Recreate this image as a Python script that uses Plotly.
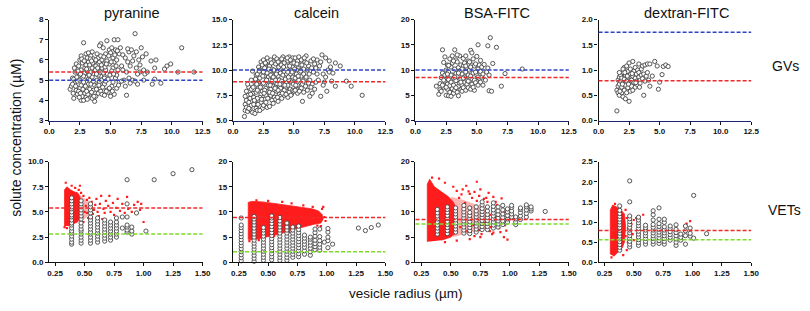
import plotly.graph_objects as go

# ---------------- DATA ----------------
titles = ["pyranine", "calcein", "BSA-FITC", "dextran-FITC"]
row_labels = ["GVs", "VETs"]

# GV reference lines (red = expected, blue = bulk)
gv_red = [5.4, 8.85, 8.5, 0.79]
gv_blue = [5.0, 10.0, 10.0, 1.75]
# VET reference lines (red = expected, green = bulk)
vet_red = [5.4, 8.9, 8.5, 0.79]
vet_green = [2.8, 2.1, 7.6, 0.56]

gv_pyr = [(1.7,4.55),(1.8,4.7),(1.9,5.1),(2.0,4.1),(2.1,4.9),(2.2,5.8),(2.1,5.4),(2.2,4.5),(2.0,5.05),(1.9,4.8),
          (2.3,4.3),(2.4,5.7),(2.5,6.0),(2.6,4.0),(2.5,4.6),(2.4,5.2),(2.6,5.5),(2.7,4.2),(2.3,4.95),(2.6,6.2),
          (2.5,5.0),(2.7,5.85),(2.4,4.45),(2.6,4.75),(2.7,5.3),(2.8,6.85),(2.8,4.0),(2.9,4.35),(3.0,6.3),(2.9,5.6),
          (3.1,4.6),(3.0,5.15),(3.2,5.9),(2.8,4.9),(3.1,6.1),(3.0,4.15),(3.2,4.8),(2.9,5.35),(3.1,5.45),(3.2,6.35),
          (3.0,5.75),(2.8,5.2),(3.1,4.05),(3.2,5.05),(3.3,4.3),(3.4,6.2),(3.5,5.6),(3.3,5.0),(3.6,4.5),(3.7,3.95),
          (3.4,4.8),(3.5,6.4),(3.6,5.3),(3.7,5.9),(3.3,5.75),(3.5,4.1),(3.6,6.05),(3.4,5.4),(3.7,4.75),(3.5,5.15),
          (3.3,4.55),(3.6,4.95),(3.8,4.2),(3.9,6.3),(4.0,5.5),(4.1,4.6),(4.2,6.8),(3.9,5.0),(4.0,4.35),(4.1,5.9),
          (4.2,5.2),(3.8,5.7),(4.0,6.1),(4.1,4.9),(3.9,4.7),(4.2,4.45),(3.8,6.0),(4.0,5.25),(4.2,6.2),(4.1,6.7),
          (4.3,4.3),(4.4,5.8),(4.5,5.1),(4.6,6.3),(4.7,4.5),(4.4,6.6),(4.5,4.8),(4.6,5.5),(4.3,6.0),(4.7,5.95),
          (4.5,4.25),(4.4,5.35),(4.7,6.95),(4.6,4.95),(4.3,5.6),(4.8,4.4),(4.9,6.5),(5.0,5.3),(5.1,4.7),(5.2,6.1),
          (4.9,5.8),(5.0,4.2),(5.1,6.6),(4.8,5.05),(5.2,5.6),(5.0,6.35),(4.9,4.6),(5.2,4.9),(5.1,5.45),(5.3,7.0),
          (5.4,6.5),(5.5,4.6),(5.6,7.0),(5.3,5.9),(5.4,5.1),(5.5,6.0),(5.6,5.5),(5.7,6.3),(5.3,4.3),(5.5,5.25),
          (5.7,4.9),(5.8,6.6),(5.9,5.7),(6.0,6.25),(6.1,5.0),(6.2,6.1),(6.3,4.25),(6.4,5.9),(6.5,6.4),(6.0,5.5),
          (6.3,5.4),(6.2,4.7),(6.5,5.1),(5.9,4.95),(6.4,6.55),(6.6,5.7),(6.7,6.5),(6.8,5.0),(6.9,6.2),(7.0,7.3),
          (7.1,5.6),(7.2,4.8),(6.8,5.95),(7.0,4.95),(7.3,6.0),(7.4,5.4),(7.5,6.6),(6.6,4.85),(7.2,5.3),(7.4,5.75),
          (7.1,6.4),(7.6,6.15),(7.7,5.5),(7.8,5.3),(8.0,5.4),(8.3,5.95),(8.4,4.8),(8.6,5.05),(8.6,5.6),(8.7,6.0),
          (9.1,4.85),(7.9,6.3),(7.7,5.0),(9.4,5.55),(9.6,5.7),(9.9,5.8),(10.5,5.4),(10.8,6.6),(11.8,5.4)]
gv_pyr_core = [(2.35,5.45),(2.45,4.15),(2.55,5.3),(2.65,6.05),(2.75,4.55),(2.85,5.95),(2.95,4.7),(3.05,5.55),
               (3.15,4.3),(3.25,5.25),(3.35,6.05),(3.45,4.4),(3.55,5.85),(3.65,4.2),(3.75,5.5),(3.85,4.55),
               (3.95,5.6),(4.05,4.75),(4.15,5.4),(4.25,5.75),(4.35,4.65),(4.45,6.15),(4.55,5.65),(4.65,4.45),
               (4.75,5.3),(4.85,6.2),(4.95,5.25),(5.05,5.9),(5.15,4.45),(5.25,5.3),(5.35,6.25),(5.45,5.7),
               (5.55,6.45),(5.65,4.75),(2.55,4.35),(3.05,4.45),(3.45,5.95),(3.85,5.3),(4.25,5.0),(4.65,5.8),
               (2.25,5.15),(2.15,4.7),(2.05,5.6),(1.95,4.35)]

gv_cal = [(0.94,5.4),(1.0,6.0),(1.0,6.6),(1.1,7.0),(1.1,6.3),(1.2,5.9),(1.2,7.5),(1.3,6.8),(1.3,8.3),(1.4,7.2),
          (1.4,6.1),(1.0,7.4),(1.2,8.6),(1.1,7.9),(1.5,6.5),(1.6,5.8),(1.6,7.7),(1.7,8.9),(1.8,5.7),(1.8,6.9),
          (1.9,9.5),(1.5,8.1),(1.7,7.3),(1.9,6.2),(1.6,9.9),(1.8,8.4),(1.9,7.8),(1.5,9.0),(1.7,6.6),(2.0,6.0),
          (2.0,8.0),(2.1,10.3),(2.1,7.0),(2.2,6.4),(2.2,9.2),(2.3,10.8),(2.3,7.6),(2.4,8.6),(2.4,6.2),(2.0,9.6),
          (2.1,8.8),(2.2,7.3),(2.3,9.9),(2.4,10.5),(2.0,7.2),(2.2,10.0),(2.3,6.8),(2.4,7.9),(2.5,11.0),(2.5,6.5),
          (2.6,9.4),(2.6,7.1),(2.7,10.6),(2.7,8.2),(2.8,6.3),(2.8,9.0),(2.9,10.9),(2.9,7.6),(2.5,8.7),(2.6,10.2),
          (2.7,6.8),(2.8,11.2),(2.9,8.5),(2.5,9.8),(2.7,7.5),(2.8,9.7),(2.6,8.0),(2.9,9.3),(3.0,6.4),(3.0,10.4),
          (3.1,8.1),(3.1,11.0),(3.2,7.0),(3.2,9.6),(3.3,10.8),(3.3,6.7),(3.4,8.8),(3.4,11.3),(3.0,9.0),(3.1,7.5),
          (3.2,10.1),(3.3,8.4),(3.4,7.3),(3.0,7.8),(3.2,8.9),(3.4,9.9),(3.1,9.5),(3.3,9.3),(3.5,7.1),(3.5,10.6),
          (3.6,8.6),(3.6,11.1),(3.7,6.9),(3.7,9.4),(3.8,10.3),(3.8,7.6),(3.9,11.0),(3.9,8.2),(3.5,9.0),(3.6,7.9),
          (3.7,10.8),(3.8,9.0),(3.9,9.7),(3.5,8.3),(3.7,8.0),(3.6,9.9),(3.9,7.4),(4.0,7.2),(4.0,10.1),(4.1,11.3),
          (4.1,8.6),(4.2,7.5),(4.2,9.8),(4.3,11.0),(4.3,8.2),(4.4,10.4),(4.4,7.9),(4.0,8.9),(4.1,9.5),(4.2,10.7),
          (4.3,9.1),(4.4,8.7),(4.0,11.1),(4.2,8.0),(4.4,9.6),(4.5,7.3),(4.5,10.9),(4.6,9.0),(4.6,11.3),(4.7,8.1),
          (4.7,10.0),(4.8,7.6),(4.8,10.6),(4.9,9.3),(4.9,11.2),(4.5,8.5),(4.6,7.8),(4.7,9.6),(4.8,8.8),(4.9,8.0),
          (4.5,9.8),(4.7,11.0),(4.9,10.3),(5.0,7.9),(5.0,10.7),(5.1,9.2),(5.1,11.2),(5.2,8.4),(5.2,10.0),(5.3,7.7),
          (5.3,10.9),(5.4,9.0),(5.4,11.3),(5.0,8.8),(5.2,9.6),(5.3,8.5),(5.4,10.3),(5.1,8.0),(5.5,8.0),(5.5,10.5),
          (5.6,9.4),(5.6,11.0),(5.7,6.9),(5.7,8.6),(5.8,10.1),(5.8,7.8),(5.9,9.1),(5.9,10.8),(5.6,8.2),(5.8,9.6),
          (6.0,11.4),(6.0,9.3),(6.1,8.0),(6.2,10.4),(6.3,7.4),(6.3,9.0),(6.4,10.9),(6.5,8.6),(6.6,9.8),(6.7,10.6),
          (6.8,8.8),(6.9,9.6),(6.1,10.0),(6.5,7.7),(6.8,10.2),(6.4,8.3),(6.7,8.1),(6.9,11.0),(6.2,8.7),(6.6,11.1),
          (7.0,9.0),(7.1,10.4),(7.2,7.4),(7.3,11.5),(7.4,9.6),(7.5,8.8),(7.6,11.2),(7.7,7.9),(7.8,10.0),(7.9,9.8),
          (8.0,10.3),(7.2,10.8),(7.6,9.3),(7.4,8.5),(8.2,9.7),(8.4,8.4),(8.4,10.7),(8.8,10.4),(9.3,8.9),(9.7,8.4),
          (10.6,7.5),(7.9,10.9),(8.1,8.9)]
gv_cal_core = [(1.45,7.6),(1.65,8.3),(1.75,7.0),(1.85,9.1),(1.95,8.6),(2.05,6.6),(2.15,9.9),(2.25,8.3),(2.35,7.1),
               (2.45,9.4),(2.55,7.7),(2.65,10.7),(2.75,9.0),(2.85,7.2),(2.95,10.1),(3.05,8.5),(3.15,10.7),
               (3.25,7.7),(3.35,10.0),(3.45,8.2),(3.55,9.6),(3.65,7.3),(3.75,10.3),(3.85,8.6),(3.95,10.5),
               (4.05,7.7),(4.15,10.3),(4.25,8.5),(4.35,7.6),(4.45,11.2),(4.55,9.3),(4.65,10.4),(4.75,7.5),
               (4.85,9.8),(4.95,8.6),(5.05,10.1),(5.15,8.5),(5.25,10.6),(5.35,9.4),(5.45,7.9),(5.55,9.9),
               (5.65,10.5),(5.75,8.9),(5.85,11.2),(5.95,8.4),(6.05,10.7),(6.25,9.6),(6.45,10.2),(2.2,6.0),(1.3,6.2)]

gv_bsa = [(1.7,6.8),(1.9,5.2),(2.0,6.1),(2.0,7.3),(2.1,8.5),(2.1,5.8),(2.2,14.0),(2.2,9.4),(2.3,11.5),(2.3,6.6),
          (2.4,7.8),(2.4,12.6),(2.5,5.0),(2.5,10.0),(2.5,8.9),(2.6,6.2),(2.6,7.2),(2.6,11.0),(2.7,4.9),(2.7,9.6),
          (2.7,8.1),(2.8,5.6),(2.8,6.9),(2.8,12.2),(2.9,10.6),(2.9,7.6),(2.9,4.8),(3.0,9.0),(3.0,6.3),(3.0,11.4),
          (3.0,12.8),(3.1,5.4),(3.1,8.4),(3.1,7.0),(3.2,14.0),(3.2,10.2),(3.2,6.0),(3.3,9.3),(3.3,12.0),(3.3,7.9),
          (3.4,5.6),(3.4,11.6),(3.4,8.7),(3.5,4.9),(3.5,6.8),(3.5,10.5),(3.6,12.8),(3.6,7.4),(3.6,9.8),(3.7,6.1),
          (3.7,8.2),(3.7,11.0),(3.8,5.8),(3.8,9.2),(3.8,7.0),(3.9,10.8),(3.9,12.3),(3.9,6.5),(4.0,8.6),(4.0,7.6),
          (4.0,11.4),(4.1,6.0),(4.1,9.6),(4.1,12.8),(4.2,7.2),(4.2,10.4),(4.2,8.0),(4.3,6.5),(4.3,9.0),(4.3,11.8),
          (4.4,7.7),(4.4,10.0),(4.5,13.9),(4.5,6.2),(4.5,8.8),(4.6,13.4),(4.6,11.0),(4.6,7.2),(4.7,9.4),(4.7,12.2),
          (4.8,6.0),(4.8,8.0),(4.8,10.8),(4.9,7.5),(4.9,11.2),(5.0,9.0),(5.0,12.7),(5.1,15.0),(5.1,7.0),(5.1,10.2),
          (5.2,8.3),(5.2,11.0),(5.3,7.6),(5.3,9.7),(5.4,8.6),(5.4,10.6),(5.5,7.0),(5.5,9.2),(5.6,11.1),(5.7,8.0),
          (5.8,9.6),(5.9,14.8),(5.9,10.4),(6.0,5.9),(6.0,9.0),(6.1,16.4),(6.2,5.8),(6.3,11.3),(6.6,14.5),(7.0,6.8),
          (7.3,9.3),(8.7,10.2),(2.4,9.0),(2.2,7.0),(3.4,13.0)]
gv_bsa_core = [(2.3,8.0),(2.5,6.6),(2.7,10.9),(2.9,9.0),(3.1,11.8),(3.3,6.5),(3.5,9.4),(3.7,7.6),(3.9,8.4),
               (4.1,10.8),(4.3,7.8),(4.5,10.6),(4.7,6.6),(4.9,9.6),(5.1,8.6),(5.3,11.9),(2.6,9.2),(3.2,8.6),
               (3.8,10.2),(4.4,11.6)]

gv_dex = [(1.5,0.19),(1.5,0.6),(1.6,0.55),(1.6,0.8),(1.6,0.68),(1.7,0.5),(1.7,0.86),(1.7,0.72),(1.8,0.62),(1.8,0.9),
          (1.8,0.78),(1.9,0.66),(1.9,0.55),(1.9,0.84),(2.0,0.74),(2.0,0.95),(2.0,0.47),(2.1,0.6),(2.1,1.05),(2.1,0.82),
          (2.2,0.43),(2.2,0.7),(2.2,0.9),(2.3,1.08),(2.3,0.55),(2.3,0.78),(2.4,0.65),(2.4,0.97),(2.4,0.86),(2.5,1.14),
          (2.5,0.38),(2.5,0.74),(2.6,0.58),(2.6,0.92),(2.6,1.02),(2.7,0.8),(2.7,0.68),(2.8,1.17),(2.8,0.88),(2.8,0.6),
          (2.9,0.98),(2.9,0.75),(3.0,0.84),(3.0,1.05),(3.0,0.66),(3.1,0.92),(3.1,0.78),(3.2,1.0),(3.2,0.7),(3.3,0.86),
          (3.3,0.95),(3.4,0.8),(3.4,0.74),(3.5,0.9),(3.5,1.02),(3.6,0.83),(3.6,1.08),(3.7,0.5),(3.7,0.92),(3.8,0.78),
          (3.8,1.1),(3.9,0.88),(4.0,0.95),(4.0,1.12),(4.1,0.8),(4.2,1.12),(4.2,0.68),(4.4,0.88),(4.6,1.17),(4.8,1.08),
          (4.9,0.62),(5.0,0.76),(5.2,0.91),(5.3,1.07),(5.5,1.1),(5.7,1.07),(2.0,1.02),(1.7,0.95),(3.3,1.12)]
gv_dex_core = [(1.75,0.58),(2.15,0.95),(2.45,0.72),(2.75,0.93),(3.05,0.75),(3.35,0.66),(2.35,0.88),(1.95,0.72)]

# VET measured vesicles: (radius column, concentrations)
vet_pyr = [(0.39,[1.8,2.0,2.3,2.6,2.9,3.1,3.4,3.7,3.9,4.2,4.5,4.7,5.0,5.3,5.5,5.8,6.1,6.4]),
           (0.47,[1.9,2.2,2.5,2.8,3.1,3.3,3.6,3.9,4.3,4.6,4.9,5.2,5.5,5.8,6.1]),
           (0.55,[1.9,2.2,2.5,2.8,3.0,3.3,3.6,3.9,4.2,4.5,4.9,5.2,5.5,5.8]),
           (0.61,[2.0,2.3,2.6,2.9,3.2,3.5,3.8,4.1,4.4]),
           (0.67,[2.1,2.4,2.7,3.0,3.3,3.6,3.9,4.2]),
           (0.72,[2.2,2.5,2.8,3.1,3.4,3.7,4.0]),
           (0.77,[2.5,2.8,3.1,3.4,3.7,4.0,4.4]),
           (0.82,[3.4,4.5]),
           (0.86,[3.0,3.2,3.5,3.7,4.5,5.8,8.2]),
           (0.90,[2.8,3.1,3.5]),
           (0.94,[4.9]), (1.02,[3.1]), (1.09,[8.2]), (1.25,[8.8]), (1.41,[9.2])]

vet_cal = [(0.27,[0.3,0.9,1.5,2.1,2.7,3.3,3.9,4.5,5.1,5.7,6.3,6.9,7.4,8.8]),
           (0.38,[0.2,0.8,1.4,2.0,2.6,3.2,3.8,4.4,5.0,5.6,6.2,6.8,7.4,8.0,8.6,9.1]),
           (0.46,[0.4,1.0,1.6,2.2,2.8,3.4,4.0,4.6,5.2,5.8,6.4,6.9]),
           (0.53,[0.5,1.1,1.7,2.3,2.9,3.5,4.1,4.7,5.3,5.9,6.5,7.1,7.7,8.3,8.8,9.2]),
           (0.60,[0.4,1.0,1.6,2.2,2.8,3.4,4.0,4.6,5.2,5.8,6.4,7.0,7.6,8.2,8.9]),
           (0.66,[0.4,1.0,1.6,2.2,2.8,3.4,4.0,4.6,5.2,5.8,6.4,7.0,7.8]),
           (0.71,[1.0,1.6,2.2,2.8,3.4,4.0,4.6,5.2,5.8,6.4,7.0]),
           (0.76,[1.1,1.7,2.3,2.9,3.5,4.1,4.7,5.3,5.9,6.5,7.2]),
           (0.81,[1.6,2.3,3.0,3.6,4.2,4.8,5.4]),
           (0.86,[1.4,2.1,2.8,3.4,4.0,4.6,5.0]),
           (0.90,[2.5,3.1,3.7,4.4,5.2,5.9,6.6]),
           (0.94,[2.4,3.0,3.6,4.3,5.1,6.6]),
           (0.98,[4.0]), (1.01,[2.9,4.3,5.0,6.0,6.7]), (1.05,[3.6]),
           (1.27,[6.8]), (1.33,[6.3]), (1.38,[6.9]), (1.44,[7.4])]

vet_bsa = [(0.385,[5.6,6.2,6.8,7.4,8.0,8.6,9.2,9.8,10.5]),
           (0.47,[5.7,6.3,6.9,7.5,8.1,8.7,9.3,9.9,10.5,11.0]),
           (0.54,[6.0,6.6,7.2,7.8,8.4,9.0,9.6,10.2,10.8]),
           (0.61,[5.8,6.4,7.0,7.6,8.2,8.8,9.4,10.0,10.6,11.3]),
           (0.66,[5.7,6.3,6.9,7.5,8.1,8.7,9.3,9.9,10.8]),
           (0.715,[6.0,6.6,7.2,7.8,8.4,9.0,9.6,10.2,11.0]),
           (0.765,[6.5,7.1,7.7,8.3,8.9,9.5,10.1,10.7,11.4,12.0]),
           (0.81,[6.5,7.1,7.7,8.3,8.9,9.5,10.2,11.0]),
           (0.86,[6.8,7.4,8.0,8.6,9.2,9.8,10.4,11.1,11.8]),
           (0.90,[7.0,7.6,8.2,8.8,9.5,10.2,11.0]),
           (0.94,[7.5,8.2,8.9,9.6,10.4,11.3]),
           (0.98,[8.0,8.6,9.3,10.0,10.6]),
           (1.015,[9.0,9.6,10.2,10.9,11.3]),
           (1.05,[7.5,8.0,8.6,9.0]),
           (1.09,[8.5,9.2,9.9,10.5,10.8]),
           (1.14,[9.0,9.7,10.4,11.0,11.4]),
           (1.18,[10.2,10.6,11.0]), (1.30,[10.1])]

vet_dex = [(0.38,[0.3,0.37,0.44,0.51,0.58,0.65,0.72,0.79,0.86,0.93,1.0,1.07,1.14,1.21,1.29,1.4]),
           (0.465,[0.38,0.45,0.52,0.59,0.66,0.73,0.8,0.87,0.94,1.01,1.08,1.15,1.5,2.02]),
           (0.54,[0.42,0.49,0.56,0.63,0.7,0.77,0.84,0.91,0.98,1.05,1.12]),
           (0.60,[0.45,0.52,0.59,0.66,0.73,0.8,0.86,0.92]),
           (0.665,[0.45,0.52,0.59,0.66,0.73,0.8,0.87,0.94,1.05,1.18,1.28]),
           (0.715,[0.47,0.54,0.61,0.68,0.75,0.82,0.89,0.96,1.07,1.35]),
           (0.76,[0.45,0.52,0.59,0.66,0.73,0.8,0.88,0.99,1.07]),
           (0.81,[0.55,0.62,0.69,0.76,0.84,0.9]),
           (0.86,[0.42,0.5,0.58,0.66,0.74,0.82,0.93]),
           (0.90,[0.55,0.62,0.7]),
           (0.94,[0.45,0.66,0.78,0.9]),
           (0.98,[0.65,0.72,0.85]),
           (1.01,[0.6,1.66]), (1.12,[0.71])]

# Simulated VET populations: dense-cloud outlines, fading halo outlines, sparse outlying points
sim_pyr_dense = [(0.33,3.6),(0.33,7.2),(0.35,7.5),(0.38,7.2),(0.41,7.0),(0.44,6.9),(0.46,6.5),(0.47,5.6),
                 (0.46,4.4),(0.44,4.0),(0.40,3.8),(0.36,3.6)]
sim_pyr_sparse = [(0.44,6.9),(0.49,6.4),(0.53,6.1),(0.56,5.7),(0.55,4.8),(0.50,4.3),(0.46,4.3),(0.46,6.5)]
sim_pyr_dots = [(0.34,7.9),(0.46,7.6),(0.47,6.9),(0.49,6.6),(0.50,5.0),(0.52,6.2),(0.53,4.4),(0.55,5.5),(0.56,6.0),
                (0.57,4.8),(0.58,5.2),(0.60,6.3),(0.61,5.0),(0.62,4.6),(0.63,5.8),(0.64,6.6),(0.66,5.3),(0.67,4.9),
                (0.68,6.1),(0.70,5.6),(0.71,6.6),(0.72,5.0),(0.74,5.9),(0.75,4.7),(0.77,5.4),(0.78,6.3),(0.80,5.1),
                (0.82,5.8),(0.84,4.9),(0.86,6.5),(0.87,5.3),(0.90,5.0),(0.92,5.7),(0.95,6.0),(0.97,5.2),(0.98,5.8),
                (1.00,4.0),(0.56,4.4),(0.59,5.7),(0.65,4.3),(0.48,4.5),(0.51,5.6),(0.54,6.4),(0.49,4.0),(0.52,4.9),
                (0.33,3.5),(0.35,3.4),(0.42,7.4),(0.39,7.6),(0.45,7.2)]

sim_cal_dense = [(0.33,4.5),(0.33,11.9),(0.36,12.1),(0.45,12.0),(0.55,11.7),(0.65,11.4),(0.75,11.1),(0.82,10.8),
                 (0.88,10.6),(0.93,10.2),(0.96,9.5),(0.97,8.6),(0.95,7.8),(0.90,7.6),(0.85,7.3),(0.78,6.9),
                 (0.70,6.4),(0.60,5.6),(0.50,5.1),(0.40,4.6),(0.34,4.5)]
sim_cal_sparse = []
sim_cal_dots = [(0.97,11.0),(0.96,10.6),(0.95,7.2),(0.92,7.3),(0.88,11.0),(0.80,11.3),(0.70,11.7),(0.62,12.0),
                (0.98,9.0),(0.99,8.2),(0.34,4.2),(0.42,4.4),(0.55,5.2),(0.68,6.0),(0.50,12.2),(0.40,12.3)]

sim_bsa_dense = [(0.30,4.1),(0.30,15.5),(0.32,16.5),(0.36,15.0),(0.42,14.0),(0.48,13.0),(0.52,12.0),(0.55,10.5),
                 (0.55,6.0),(0.50,5.0),(0.42,4.4)]
sim_bsa_sparse = [(0.50,13.0),(0.60,12.4),(0.70,11.6),(0.80,11.0),(0.80,6.6),(0.70,6.0),(0.60,5.4),(0.52,5.0)]
sim_bsa_dots = [(0.60,14.5),(0.72,16.0),(0.75,14.5),(0.82,13.8),(0.86,13.0),(0.93,12.7),(0.98,4.5),(0.95,5.0),
                (0.40,16.6),(0.45,15.8),(0.52,15.0),(0.55,14.2),(0.66,13.6),(0.68,12.8),(0.78,12.6),(0.88,12.0),
                (0.92,6.0),(0.85,5.6),(0.75,5.0),(0.66,4.6),(0.55,4.3),(0.45,4.0),(1.00,8.5),(1.01,10.0),
                (0.34,16.8),(0.63,15.2),(0.70,14.0),(0.90,8.2),(0.93,9.6),(0.84,7.0),
                (0.57,12.8),(0.58,7.0),(0.62,11.8),(0.64,6.2),(0.67,10.9),(0.69,7.4),(0.72,12.2),(0.74,6.4),
                (0.77,11.3),(0.79,7.8),(0.81,12.0),(0.83,6.2),(0.85,10.8),(0.87,7.6),(0.89,11.4),(0.91,6.8),
                (0.94,10.9),(0.96,7.4),(0.99,10.6),(0.97,6.3),(0.83,9.4),(0.88,9.0),(0.92,8.6),(0.95,9.9),
                (0.98,8.0),(0.80,12.8),(0.74,13.2),(0.65,14.1),(0.59,13.5),(0.86,5.9),(0.76,5.6),(0.70,5.2)]

sim_dex_dense = [(0.30,0.2),(0.30,1.3),(0.32,1.42),(0.35,1.38),(0.39,1.3),(0.42,1.2),(0.43,0.9),(0.42,0.5),
                 (0.40,0.35),(0.36,0.22),(0.33,0.15)]
sim_dex_sparse = []
sim_dex_dots = [(0.44,1.1),(0.45,0.85),(0.46,0.6),(0.48,0.95),(0.47,0.45),(0.49,0.7),(0.50,1.05),(0.43,1.3),
                (0.44,0.3),(0.41,0.18),(0.52,1.10),(0.55,1.12),(0.58,1.18),(0.95,0.96),(0.98,1.02),(0.46,1.0),
                (0.45,0.5),(0.50,0.55),(0.43,0.65),(0.31,0.12),(0.34,1.45)]

gv_sets = [gv_pyr + gv_pyr_core, gv_cal + gv_cal_core, gv_bsa + gv_bsa_core, gv_dex + gv_dex_core]
vet_sets = [vet_pyr, vet_cal, vet_bsa, vet_dex]
sim_dense = [sim_pyr_dense, sim_cal_dense, sim_bsa_dense, sim_dex_dense]
sim_sparse = [sim_pyr_sparse, sim_cal_sparse, sim_bsa_sparse, sim_dex_sparse]
sim_dots = [sim_pyr_dots, sim_cal_dots, sim_bsa_dots, sim_dex_dots]

gv_yrange = [(3, 8, 1, "d"), (5, 15, 2.5, ".1f"), (0, 20, 5, "d"), (0, 2, 0.5, ".1f")]
vet_yrange = [(0, 10, 2.5, ".1f"), (0, 20, 5, "d"), (0, 20, 5, "d"), (0, 2.5, 0.5, ".1f")]

# ---------------- LAYOUT / STYLE ----------------
W, H = 810, 311
col_px = [(44, 200), (231, 386), (416.7, 572.7), (603, 758.3)]
row_px = [(16, 120), (162.3, 266)]

RED = "#ee2a2a"
CLOUD = "#ff1c1c"
BLUE = "#2f45c0"
GREEN = "#7ddc2a"
CIRC = "#444444"
FONT = "Liberation Sans, Arial, sans-serif"

fig = go.Figure()
tickfont = dict(family=FONT, size=8, color="#111", weight="bold")

def axis_common():
    return dict(showline=True, linewidth=1.3, linecolor="#111", ticks="outside", ticklen=3,
                tickwidth=1, tickcolor="#111", showgrid=False, zeroline=False, tickfont=tickfont)

circle_marker = dict(symbol="circle", size=4.2, color="white", line=dict(color=CIRC, width=0.9))

shapes = []
for r in range(2):
    for c in range(4):
        n = r * 4 + c + 1
        xa = "x" if n == 1 else f"x{n}"
        ya = "y" if n == 1 else f"y{n}"
        x0, x1 = col_px[c]
        y0, y1 = row_px[r]
        xd = [x0 / W, x1 / W]
        yd = [1 - y1 / H, 1 - y0 / H]
        key = "" if n == 1 else str(n)
        xax = axis_common()
        yax = axis_common()
        if r == 0:
            xax.update(range=[0, 12.5], tick0=0, dtick=2.5, tickformat=".1f", linecolor="#1d2570")
            lo, hi, dt, fmt = gv_yrange[c]
        else:
            xax.update(range=[0.2, 1.5], tick0=0.25, dtick=0.25, tickformat=".2f")
            lo, hi, dt, fmt = vet_yrange[c]
        yax.update(range=[lo, hi], tick0=lo, dtick=dt, tickformat=fmt)
        xax.update(domain=xd, anchor=ya)
        yax.update(domain=yd, anchor=xa)
        fig.layout["xaxis" + key] = xax
        fig.layout["yaxis" + key] = yax

        if r == 0:
            pts = gv_sets[c]
            fig.add_trace(go.Scatter(x=[p[0] for p in pts], y=[p[1] for p in pts], mode="markers",
                                     xaxis=xa, yaxis=ya, showlegend=False, cliponaxis=False,
                                     marker=circle_marker))
            refs = [(gv_blue[c], BLUE), (gv_red[c], RED)]
        else:
            sp = sim_sparse[c]
            if sp:
                fig.add_trace(go.Scatter(x=[p[0] for p in sp], y=[p[1] for p in sp], mode="lines",
                                         fill="toself", fillcolor="rgba(255,40,40,0.35)",
                                         line=dict(width=0), xaxis=xa, yaxis=ya, showlegend=False))
            dn = sim_dense[c]
            fig.add_trace(go.Scatter(x=[p[0] for p in dn], y=[p[1] for p in dn], mode="lines",
                                     fill="toself", fillcolor=CLOUD, line=dict(width=0.8, color=CLOUD),
                                     xaxis=xa, yaxis=ya, showlegend=False))
            dt_ = sim_dots[c]
            fig.add_trace(go.Scatter(x=[p[0] for p in dt_], y=[p[1] for p in dt_], mode="markers",
                                     marker=dict(symbol="square", size=2.2, color=CLOUD),
                                     xaxis=xa, yaxis=ya, showlegend=False))
            vx, vy = [], []
            for xc, ys in vet_sets[c]:
                for yv in ys:
                    vx.append(xc)
                    vy.append(yv)
            fig.add_trace(go.Scatter(x=vx, y=vy, mode="markers", xaxis=xa, yaxis=ya, showlegend=False,
                                     cliponaxis=False, marker=circle_marker))
            refs = [(vet_green[c], GREEN), (vet_red[c], RED)]
        for val, colr in refs:
            shapes.append(dict(type="line", xref=f"{xa} domain", yref=ya, x0=0, x1=1, y0=val, y1=val,
                               layer="above", line=dict(color=colr, width=1.5, dash="4px,2px")))

annotations = []
title_px = [128, 316, 500, 692]
for c, t in enumerate(titles):
    annotations.append(dict(text=t, x=title_px[c] / W, y=1 - 9 / H, xref="paper", yref="paper",
                            showarrow=False, xanchor="center", yanchor="middle",
                            font=dict(family=FONT, size=14.5, color="#111")))
annotations.append(dict(text=row_labels[0], x=793 / W, y=1 - 64 / H, xref="paper", yref="paper",
                        showarrow=False, xanchor="center", yanchor="middle",
                        font=dict(family=FONT, size=14, color="#111")))
annotations.append(dict(text=row_labels[1], x=792 / W, y=1 - 212 / H, xref="paper", yref="paper",
                        showarrow=False, xanchor="center", yanchor="middle",
                        font=dict(family=FONT, size=14, color="#111")))
annotations.append(dict(text="solute concentration (µM)", x=10 / W, y=1 - 138 / H, xref="paper",
                        yref="paper", showarrow=False, textangle=-90, xanchor="center", yanchor="middle",
                        font=dict(family=FONT, size=14, color="#111")))
annotations.append(dict(text="vesicle radius (µm)", x=407 / W, y=1 - 298 / H, xref="paper",
                        yref="paper", showarrow=False, xanchor="center", yanchor="middle",
                        font=dict(family=FONT, size=13.5, color="#111")))

fig.update_layout(width=W, height=H, margin=dict(l=0, r=0, t=0, b=0), plot_bgcolor="white",
                  paper_bgcolor="white", shapes=shapes, annotations=annotations, showlegend=False)

fig.write_html("out.html", config={"displayModeBar": False},
               post_script="document.body.style.margin='0px';document.body.style.overflow='hidden';")
